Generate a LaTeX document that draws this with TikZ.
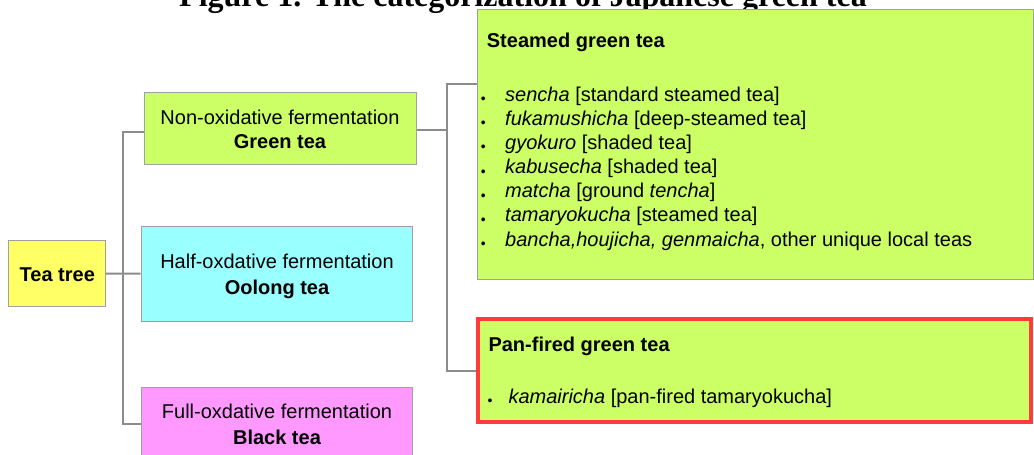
\documentclass[tikz,border=0pt]{standalone}
\usepackage{fontspec}
\setmainfont{Liberation Sans}
\newfontfamily\titlefont{Liberation Serif}
\definecolor{gfill}{HTML}{CCFF66}
\definecolor{cfill}{HTML}{99FFFF}
\definecolor{pfill}{HTML}{FF99FF}
\definecolor{yfill}{HTML}{FFFF66}
\definecolor{redb}{HTML}{FF3B3B}
\definecolor{boxb}{HTML}{A0A0A0}
\definecolor{conn}{HTML}{8C8C8C}
\tikzset{
  box/.style={draw=boxb, line width=1pt, inner sep=0pt, rectangle},
  txt/.style={inner sep=0pt, anchor=base, font=\fontsize{20}{24}\selectfont},
  ltxt/.style={inner sep=0pt, anchor=base west, font=\fontsize{20}{24}\selectfont},
  bul/.style={inner sep=0pt, anchor=base, yshift=-2.5pt, font=\fontsize{14}{16}\selectfont},
  link/.style={draw=conn, line width=2pt},
}
\begin{document}
\begin{tikzpicture}[x=1pt, y=-1pt]
\useasboundingbox (0,0) rectangle (1034,455);
\clip (0,0) rectangle (1034,455);
% title
\node[inner sep=0pt, anchor=base, font=\titlefont\bfseries\fontsize{32}{36}\selectfont] (title) at (523,6) {Figure 1. The categorization of Japanese green tea};
% boxes
\node[box, fill=yfill, minimum width=96.7pt, minimum height=66pt] (tree) at (56.7,273.7) {};
\node[box, fill=gfill, minimum width=271.7pt, minimum height=72pt] (green) at (280.15,128) {};
\node[box, fill=cfill, minimum width=271.7pt, minimum height=95pt] (oolong) at (276.85,273.5) {};
\node[box, fill=pfill, minimum width=271.7pt, minimum height=73.4pt] (black) at (276.85,424) {};
\node[box, fill=gfill, minimum width=556pt, minimum height=269.7pt] (steamed) at (755.3,144.15) {};
\node[rectangle, draw=redb, fill=gfill, line width=4pt, inner sep=0pt, minimum width=553pt, minimum height=102.7pt] (pan) at (754.5,370.65) {};
% connectors
\coordinate (j1) at (123.3,273.5);
\coordinate (j2) at (446.7,130);
\draw[link] (tree.east) -- (oolong.west);
\draw[link] ([yshift=-3.7pt]green.west) -| (j1) |- (black.west);
\draw[link] ([yshift=-2pt]green.east) -- (j2);
\draw[link] ([yshift=-75pt]steamed.north west) -| (j2) |- (pan.west);
% box texts
\node[txt, font=\bfseries\fontsize{20}{24}\selectfont] (treet) at (57.3,281) {Tea tree};
\node[txt] (g1) at (280,124) {Non-oxidative fermentation};
\node[txt, font=\bfseries\fontsize{20}{24}\selectfont] (g2) at (280,148.3) {Green tea};
\node[txt] (o1) at (277,268.3) {Half-oxdative fermentation};
\node[txt, font=\bfseries\fontsize{20}{24}\selectfont] (o2) at (277,294.3) {Oolong tea};
\node[txt] (k1) at (277,418.3) {Full-oxdative fermentation};
\node[txt, font=\bfseries\fontsize{20}{24}\selectfont] (k2) at (277,444.3) {Black tea};
% steamed list
\node[ltxt, font=\bfseries\fontsize{20}{24}\selectfont] (st) at (486.7,47.7) {Steamed green tea};
\node[bul] (sb1) at (483.3,101) {•};
\node[ltxt] (s1) at (505,101) {\textit{sencha} [standard steamed tea]};
\node[bul] (sb2) at (483.3,125.2) {•};
\node[ltxt] (s2) at (505,125.2) {\textit{fukamushicha} [deep-steamed tea]};
\node[bul] (sb3) at (483.3,149.3) {•};
\node[ltxt] (s3) at (505,149.3) {\textit{gyokuro} [shaded tea]};
\node[bul] (sb4) at (483.3,173.5) {•};
\node[ltxt] (s4) at (505,173.5) {\textit{kabusecha} [shaded tea]};
\node[bul] (sb5) at (483.3,197.6) {•};
\node[ltxt] (s5) at (505,197.6) {\textit{matcha} [ground \textit{tencha}]};
\node[bul] (sb6) at (483.3,221.8) {•};
\node[ltxt] (s6) at (505,221.8) {\textit{tamaryokucha} [steamed tea]};
\node[bul] (sb7) at (483.3,246) {•};
\node[ltxt] (s7) at (505,246) {\textit{bancha,houjicha, genmaicha}, other unique local teas};
% pan-fired
\node[ltxt, font=\bfseries\fontsize{20}{24}\selectfont] (pt) at (488.3,351.7) {Pan-fired green tea};
\node[bul] (pb1) at (490,403.3) {•};
\node[ltxt] (p1) at (508.3,403.3) {\textit{kamairicha} [pan-fired tamaryokucha]};
\end{tikzpicture}
\end{document}
